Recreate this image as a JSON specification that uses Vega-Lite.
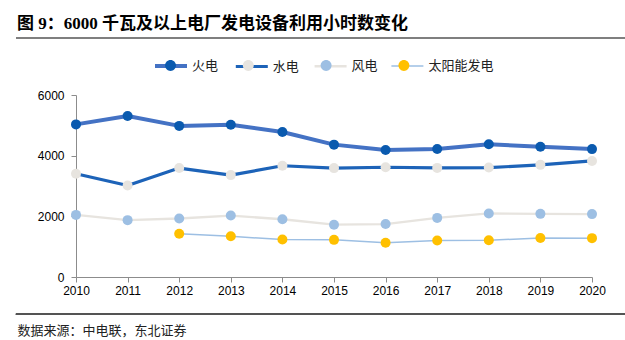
{
  "$schema": "https://vega.github.io/schema/vega-lite/v6.json",
  "width": 516,
  "height": 182,
  "autosize": {"type": "none"},
  "padding": {"left": 76, "top": 95, "right": 33, "bottom": 63},
  "background": "white",
  "config": {
    "view": {"stroke": null},
    "font": "Liberation Sans"
  },
  "title": {
    "text": "图 9：6000 千瓦及以上电厂发电设备利用小时数变化",
    "anchor": "start",
    "frame": "group",
    "font": "Liberation Serif, Noto Sans CJK SC",
    "fontSize": 17,
    "fontWeight": "bold",
    "color": "#000000",
    "dx": -59,
    "offset": 4,
    "orient": "top"
  },
  "data": {
    "values": [
      {"year": 2010, "series": "火电", "order": 1, "value": 5031},
      {"year": 2011, "series": "火电", "order": 1, "value": 5305},
      {"year": 2012, "series": "火电", "order": 1, "value": 4982},
      {"year": 2013, "series": "火电", "order": 1, "value": 5021},
      {"year": 2014, "series": "火电", "order": 1, "value": 4778},
      {"year": 2015, "series": "火电", "order": 1, "value": 4364},
      {"year": 2016, "series": "火电", "order": 1, "value": 4186},
      {"year": 2017, "series": "火电", "order": 1, "value": 4219},
      {"year": 2018, "series": "火电", "order": 1, "value": 4378},
      {"year": 2019, "series": "火电", "order": 1, "value": 4293},
      {"year": 2020, "series": "火电", "order": 1, "value": 4216},
      {"year": 2010, "series": "水电", "order": 2, "value": 3404},
      {"year": 2011, "series": "水电", "order": 2, "value": 3019},
      {"year": 2012, "series": "水电", "order": 2, "value": 3591},
      {"year": 2013, "series": "水电", "order": 2, "value": 3359},
      {"year": 2014, "series": "水电", "order": 2, "value": 3669},
      {"year": 2015, "series": "水电", "order": 2, "value": 3590},
      {"year": 2016, "series": "水电", "order": 2, "value": 3619},
      {"year": 2017, "series": "水电", "order": 2, "value": 3597},
      {"year": 2018, "series": "水电", "order": 2, "value": 3607},
      {"year": 2019, "series": "水电", "order": 2, "value": 3697},
      {"year": 2020, "series": "水电", "order": 2, "value": 3827},
      {"year": 2010, "series": "风电", "order": 3, "value": 2047},
      {"year": 2011, "series": "风电", "order": 3, "value": 1875},
      {"year": 2012, "series": "风电", "order": 3, "value": 1929},
      {"year": 2013, "series": "风电", "order": 3, "value": 2025},
      {"year": 2014, "series": "风电", "order": 3, "value": 1905},
      {"year": 2015, "series": "风电", "order": 3, "value": 1724},
      {"year": 2016, "series": "风电", "order": 3, "value": 1745},
      {"year": 2017, "series": "风电", "order": 3, "value": 1949},
      {"year": 2018, "series": "风电", "order": 3, "value": 2095},
      {"year": 2019, "series": "风电", "order": 3, "value": 2082},
      {"year": 2020, "series": "风电", "order": 3, "value": 2073},
      {"year": 2012, "series": "太阳能发电", "order": 4, "value": 1423},
      {"year": 2013, "series": "太阳能发电", "order": 4, "value": 1342},
      {"year": 2014, "series": "太阳能发电", "order": 4, "value": 1235},
      {"year": 2015, "series": "太阳能发电", "order": 4, "value": 1225},
      {"year": 2016, "series": "太阳能发电", "order": 4, "value": 1129},
      {"year": 2017, "series": "太阳能发电", "order": 4, "value": 1204},
      {"year": 2018, "series": "太阳能发电", "order": 4, "value": 1212},
      {"year": 2019, "series": "太阳能发电", "order": 4, "value": 1285},
      {"year": 2020, "series": "太阳能发电", "order": 4, "value": 1281}
    ]
  },
  "layer": [
    {
      "mark": {"type": "line", "strokeCap": "round", "strokeJoin": "round"},
      "encoding": {
        "x": {
          "field": "year",
          "type": "quantitative",
          "scale": {"domain": [2010, 2020], "nice": false, "zero": false},
          "axis": {
            "values": [2010, 2011, 2012, 2013, 2014, 2015, 2016, 2017, 2018, 2019, 2020],
            "format": "d",
            "grid": false,
            "domainColor": "#8c8c8c",
            "tickColor": "#8c8c8c",
            "tickSize": 5,
            "labelPadding": 3,
            "labelFontSize": 12,
            "labelFont": "Liberation Sans",
            "labelColor": "#000000",
            "labelFlush": false,
            "title": "数据来源：中电联，东北证券",
            "titleAnchor": "start",
            "titleAlign": "left",
            "titleBaseline": "middle",
            "titleX": -59,
            "titleY": 53,
            "titleFont": "Noto Sans CJK SC",
            "titleFontSize": 13,
            "titleFontWeight": "normal",
            "titleColor": "#222222"
          }
        },
        "y": {
          "field": "value",
          "type": "quantitative",
          "scale": {"domain": [0, 6000], "nice": false},
          "axis": {
            "values": [0, 1000, 2000, 3000, 4000, 5000, 6000],
            "format": "d",
            "grid": false,
            "title": null,
            "domainColor": "#8c8c8c",
            "tickColor": "#8c8c8c",
            "tickSize": 5,
            "labelPadding": 7,
            "labelFontSize": 12,
            "labelFont": "Liberation Sans",
            "labelColor": "#000000"
          }
        },
        "stroke": {
          "field": "series",
          "type": "nominal",
          "scale": {
            "domain": ["火电", "水电", "风电", "太阳能发电"],
            "range": ["#4472C4", "#1D63B8", "#E7E4DF", "#9DBFE3"]
          },
          "legend": {
            "orient": "none",
            "legendX": 77,
            "legendY": -47,
            "direction": "horizontal",
            "columns": 4,
            "title": null,
            "padding": 0,
            "columnPadding": 9.8,
            "symbolType": "stroke",
            "symbolSize": 1024,
            "symbolStrokeWidth": 3,
            "labelOffset": 3,
            "labelFont": "Noto Sans CJK SC",
            "labelFontSize": 13,
            "labelColor": "#222222"
          }
        },
        "strokeWidth": {
          "field": "series",
          "type": "nominal",
          "scale": {
            "domain": ["火电", "水电", "风电", "太阳能发电"],
            "range": [4, 1.5, 2, 2]
          },
          "legend": null
        }
      }
    },
    {
      "mark": {"type": "point", "filled": true, "opacity": 1, "size": 100, "shape": "circle"},
      "encoding": {
        "x": {"field": "year", "type": "quantitative"},
        "y": {"field": "value", "type": "quantitative"},
        "fill": {
          "field": "series",
          "type": "nominal",
          "sort": {"field": "order"},
          "scale": {
            "range": ["#0A5AAF", "#E7E4DF", "#9DBFE3", "#FFC000"]
          },
          "legend": {
            "orient": "none",
            "legendX": 77,
            "legendY": -47,
            "direction": "horizontal",
            "columns": 4,
            "title": null,
            "padding": 0,
            "columnPadding": 12.8,
            "symbolType": "M-0.34,0A0.34,0.34 0 1,0 0.34,0A0.34,0.34 0 1,0 -0.34,0Z",
            "symbolSize": 1024,
            "symbolStrokeWidth": 3,
            "symbolStrokeColor": "transparent",
            "symbolOpacity": 1,
            "labelOffset": 3,
            "labelFont": "Noto Sans CJK SC",
            "labelFontSize": 13,
            "labelColor": "transparent"
          }
        }
      }
    },
    {
      "mark": {"type": "rule", "clip": false, "color": "#7f7f7f", "strokeWidth": 1.5},
      "encoding": {
        "x": {"datum": 2008.837},
        "x2": {"datum": 2020.64},
        "y": {"datum": 7879}
      }
    },
    {
      "mark": {"type": "rule", "clip": false, "color": "#555555", "strokeWidth": 1},
      "encoding": {
        "x": {"datum": 2008.837},
        "x2": {"datum": 2020.64},
        "y": {"datum": -1220}
      }
    }
  ]
}
